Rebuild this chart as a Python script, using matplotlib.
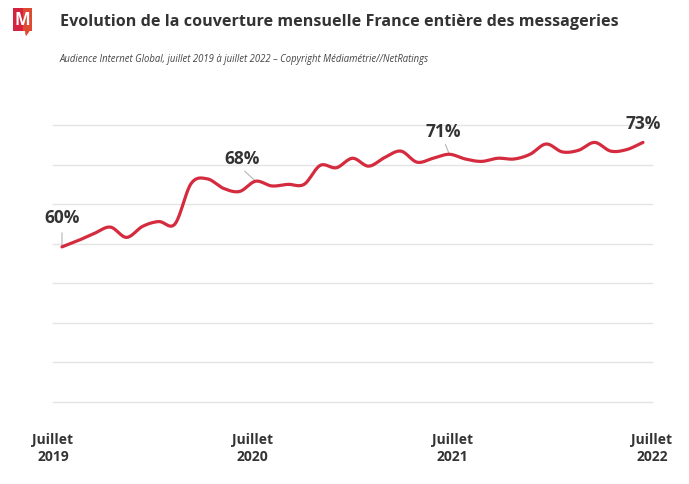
import numpy as np
import matplotlib
matplotlib.use("Agg")
import matplotlib.pyplot as plt
from matplotlib.patches import Polygon

# ---- data ----
months = list(range(37))  # juillet 2019 .. juillet 2022
coverage = [59.6, 60.4, 61.3, 62.1, 60.8, 62.2, 62.8, 62.5, 67.6, 68.2,
            67.0, 66.6, 67.9, 67.3, 67.5, 67.5, 69.9, 69.6, 70.8, 69.8,
            70.9, 71.7, 70.3, 70.8, 71.3, 70.7, 70.4, 70.8, 70.7, 71.3,
            72.6, 71.6, 71.8, 72.8, 71.7, 71.9, 72.8]
tick_labels = ["Juillet\n2019", "Juillet\n2020", "Juillet\n2021", "Juillet\n2022"]
label_idx = [0, 12, 24, 36]
label_text = ["60%", "68%", "71%", "73%"]

TITLE = "Evolution de la couverture mensuelle France entière des messageries"
SUBTITLE = ("Audience Internet Global, juillet 2019 à juillet 2022 – "
            "Copyright Médiamétrie//NetRatings")

RED = "#d52b3e"
DARK = "#333333"

def catmull_rom(x, y, n=20):
    x = np.asarray(x, float); y = np.asarray(y, float)
    px = np.concatenate([[2 * x[0] - x[1]], x, [2 * x[-1] - x[-2]]])
    py = np.concatenate([[2 * y[0] - y[1]], y, [2 * y[-1] - y[-2]]])
    xs, ys = [], []
    t = np.linspace(0, 1, n, endpoint=False)
    for i in range(1, len(px) - 2):
        for arr, out in ((px, xs), (py, ys)):
            p0, p1, p2, p3 = arr[i - 1], arr[i], arr[i + 1], arr[i + 2]
            out.append(0.5 * ((2 * p1) + (-p0 + p2) * t +
                              (2 * p0 - 5 * p1 + 4 * p2 - p3) * t ** 2 +
                              (-p0 + 3 * p1 - 3 * p2 + p3) * t ** 3))
    xs = np.concatenate(xs + [[x[-1]]]); ys = np.concatenate(ys + [[y[-1]]])
    return xs, ys

W, H = 689, 484
fig = plt.figure(figsize=(W / 100, H / 100), dpi=100)
fig.patch.set_facecolor("white")

L, R, T, B = 53, 652, 125, 402
ax = fig.add_axes([L / W, 1 - B / H, (R - L) / W, (B - T) / H])
pad = 9 / ((643 - 62) / 36)
ax.set_xlim(-pad, 36 + pad)
ax.set_ylim(40, 75)
ax.set_yticks([40, 45, 50, 55, 60, 65, 70, 75])
ax.grid(axis="y", color="#e4e4e4", linewidth=1.0)
for gl in ax.get_ygridlines():
    gl.set_clip_on(False)
ax.set_axisbelow(True)
for s in ax.spines.values():
    s.set_visible(False)
ax.tick_params(length=0, labelleft=False)
x0, x1 = ax.get_xlim()
ax.set_xticks(np.linspace(x0, x1, 4))
ax.set_xticklabels(tick_labels, fontsize=10, fontweight="bold", color=DARK,
                   family="Open Sans", linespacing=1.35)
ax.tick_params(axis="x", pad=22)

sx, sy = catmull_rom(months, coverage)
ax.plot(sx, sy, color=RED, linewidth=2.3, solid_capstyle="round", zorder=3)

# data labels with leader lines (offsets in pixels)
text_off = [(0, 29), (-14, 22), (-6, 22), (0, 18)]
lead_end = [(0, 14), (-11, 10), (-4, 10), None]
for idx, txt, (tx, ty), le in zip(label_idx, label_text, text_off, lead_end):
    xv, yv = months[idx], coverage[idx]
    if le is not None:
        ax.annotate("", xy=(xv, yv), xytext=(le[0] * 0.72, le[1] * 0.72),
                    textcoords="offset points",
                    arrowprops=dict(arrowstyle="-", color="#b5b5b5", lw=0.8,
                                    shrinkA=0, shrinkB=0), zorder=2)
    ax.annotate(txt, xy=(xv, yv), xytext=(tx * 0.72, ty * 0.72),
                textcoords="offset points", ha="center", va="center",
                fontsize=12.5, fontweight="bold", color=DARK, family="Open Sans",
                annotation_clip=False)

# title and subtitle
fig.text(60 / W, 1 - 22.5 / H, TITLE, fontsize=11.6, fontweight="bold", color=DARK,
         family="Open Sans", va="center", ha="left")
fig.text(60 / W, 1 - 59.5 / H, SUBTITLE, fontsize=6.85, style="italic", color="#444444",
         family="Open Sans", va="center", ha="left")

# logo
def fp(x, y):
    return (x / W, 1 - y / H)

body = Polygon([fp(13, 8), fp(32, 8), fp(32, 31), fp(29.5, 31), fp(26, 36),
                fp(25, 31), fp(13, 31)], closed=True, transform=fig.transFigure,
               facecolor="#d42240", edgecolor="none")
fig.patches.append(body)
right = Polygon([fp(23, 8), fp(32, 8), fp(32, 31), fp(29.5, 31), fp(26, 36),
                 fp(25, 31), fp(23, 31)], closed=True, transform=fig.transFigure,
                facecolor="#e45a2e", edgecolor="none", alpha=0.75)
fig.patches.append(right)
fig.text(22.5 / W, 1 - 20 / H, "M", fontsize=12, fontweight="bold", color="white",
         family="Open Sans", ha="center", va="center")

fig.savefig("out.png", dpi=100, facecolor="white")
